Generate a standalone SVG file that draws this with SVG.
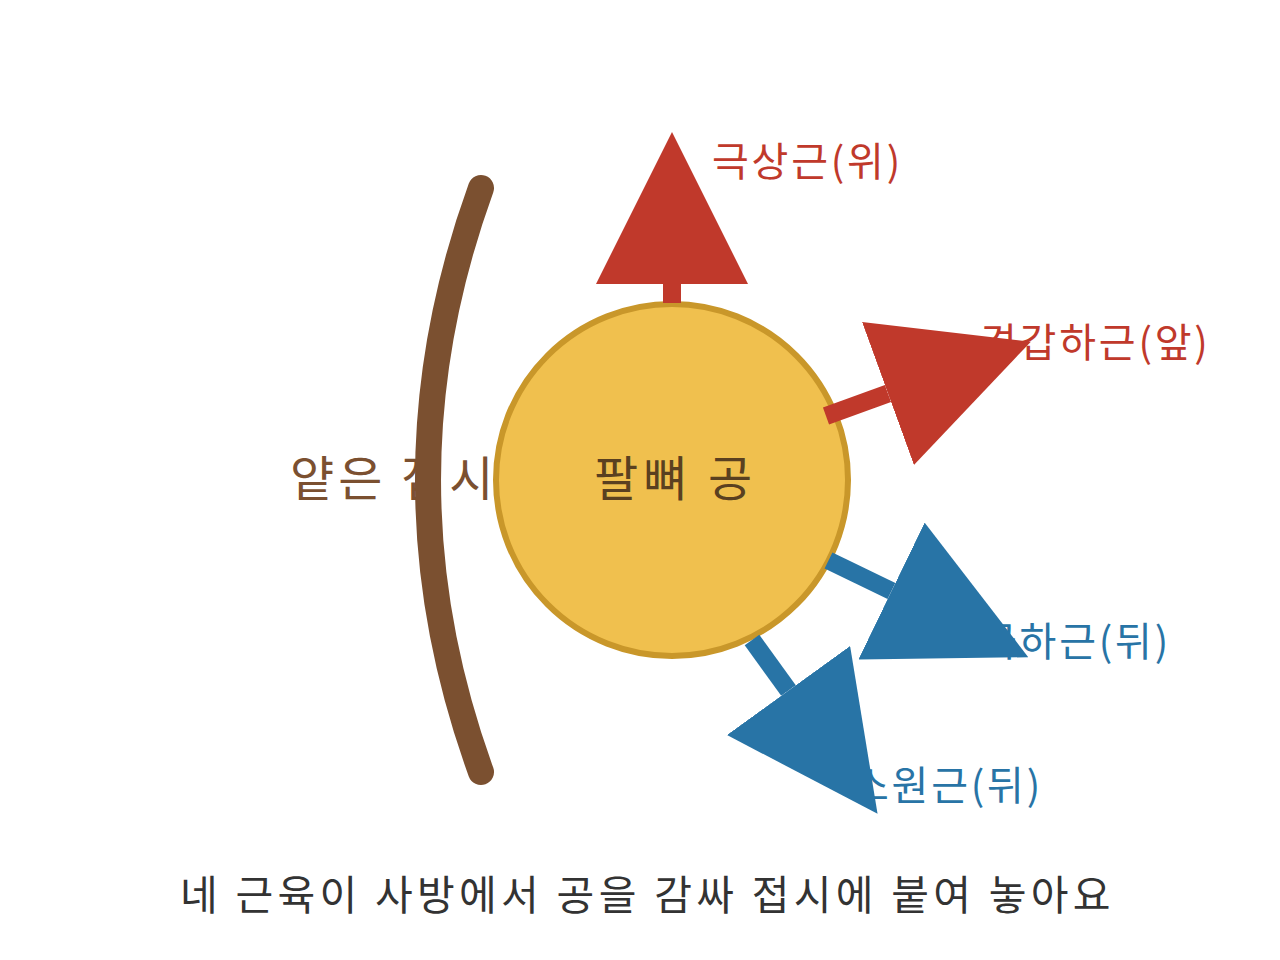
<svg xmlns="http://www.w3.org/2000/svg" width="1280" height="960" viewBox="0 0 1280 960">
  <defs>
    <style>
      text { font-family: "Noto Sans CJK KR", "Noto Sans", sans-serif; }
      .lbl { font-size: 40px; letter-spacing: 2.8px; }
      .red { fill: #C0392B; }
      .blue { fill: #2874A6; }
      .conn { stroke-width: 18; fill: none; stroke-linecap: butt; }
    </style>
    <marker id="headRed" markerUnits="userSpaceOnUse" markerWidth="152" markerHeight="152" refX="0" refY="76" orient="auto" viewBox="0 0 152 152">
      <path d="M0,0 L152,76 L0,152 Z" fill="#C0392B"/>
    </marker>
    <marker id="headBlue" markerUnits="userSpaceOnUse" markerWidth="152" markerHeight="152" refX="0" refY="76" orient="auto" viewBox="0 0 152 152">
      <path d="M0,0 L152,76 L0,152 Z" fill="#2874A6"/>
    </marker>
  </defs>
  <rect width="1280" height="960" fill="#FFFFFF"/>

  <g id="labels">
    <text class="lbl red" x="712" y="176">극상근(위)</text>
    <text class="lbl red" x="980" y="357">견갑하근(앞)</text>
    <text class="lbl blue" x="980" y="656">극하근(뒤)</text>
    <text class="lbl blue" x="852" y="800">소원근(뒤)</text>
  </g>

  <g id="plate">
    <text x="290" y="496" font-size="48" letter-spacing="4" fill="#7B5030">얕은 접시</text>
    <path d="M481,188 Q375,480 481,772" fill="none" stroke="#7B5030" stroke-width="26" stroke-linecap="round"/>
  </g>

  <g id="ball">
    <circle cx="672" cy="480" r="176" fill="#F0C04E" stroke="#C9972A" stroke-width="6"/>
    <text x="594" y="496" font-size="48" letter-spacing="5" fill="#5A4020">팔뼈 공</text>
  </g>

  <g id="connectors">
    <line class="conn" x1="672" y1="303" x2="672" y2="284" stroke="#C0392B" marker-end="url(#headRed)"/>
    <line class="conn" x1="826" y1="416" x2="888" y2="393.5" stroke="#C0392B" marker-end="url(#headRed)"/>
    <line class="conn" x1="828.5" y1="560.5" x2="891.5" y2="591" stroke="#2874A6" marker-end="url(#headBlue)"/>
    <line class="conn" x1="752" y1="640" x2="788.5" y2="690.5" stroke="#2874A6" marker-end="url(#headBlue)"/>
  </g>

  <g id="caption">
    <text x="180" y="910" font-size="41" letter-spacing="4.3" fill="#333333">네 근육이 사방에서 공을 감싸 접시에 붙여 놓아요</text>
  </g>
</svg>
